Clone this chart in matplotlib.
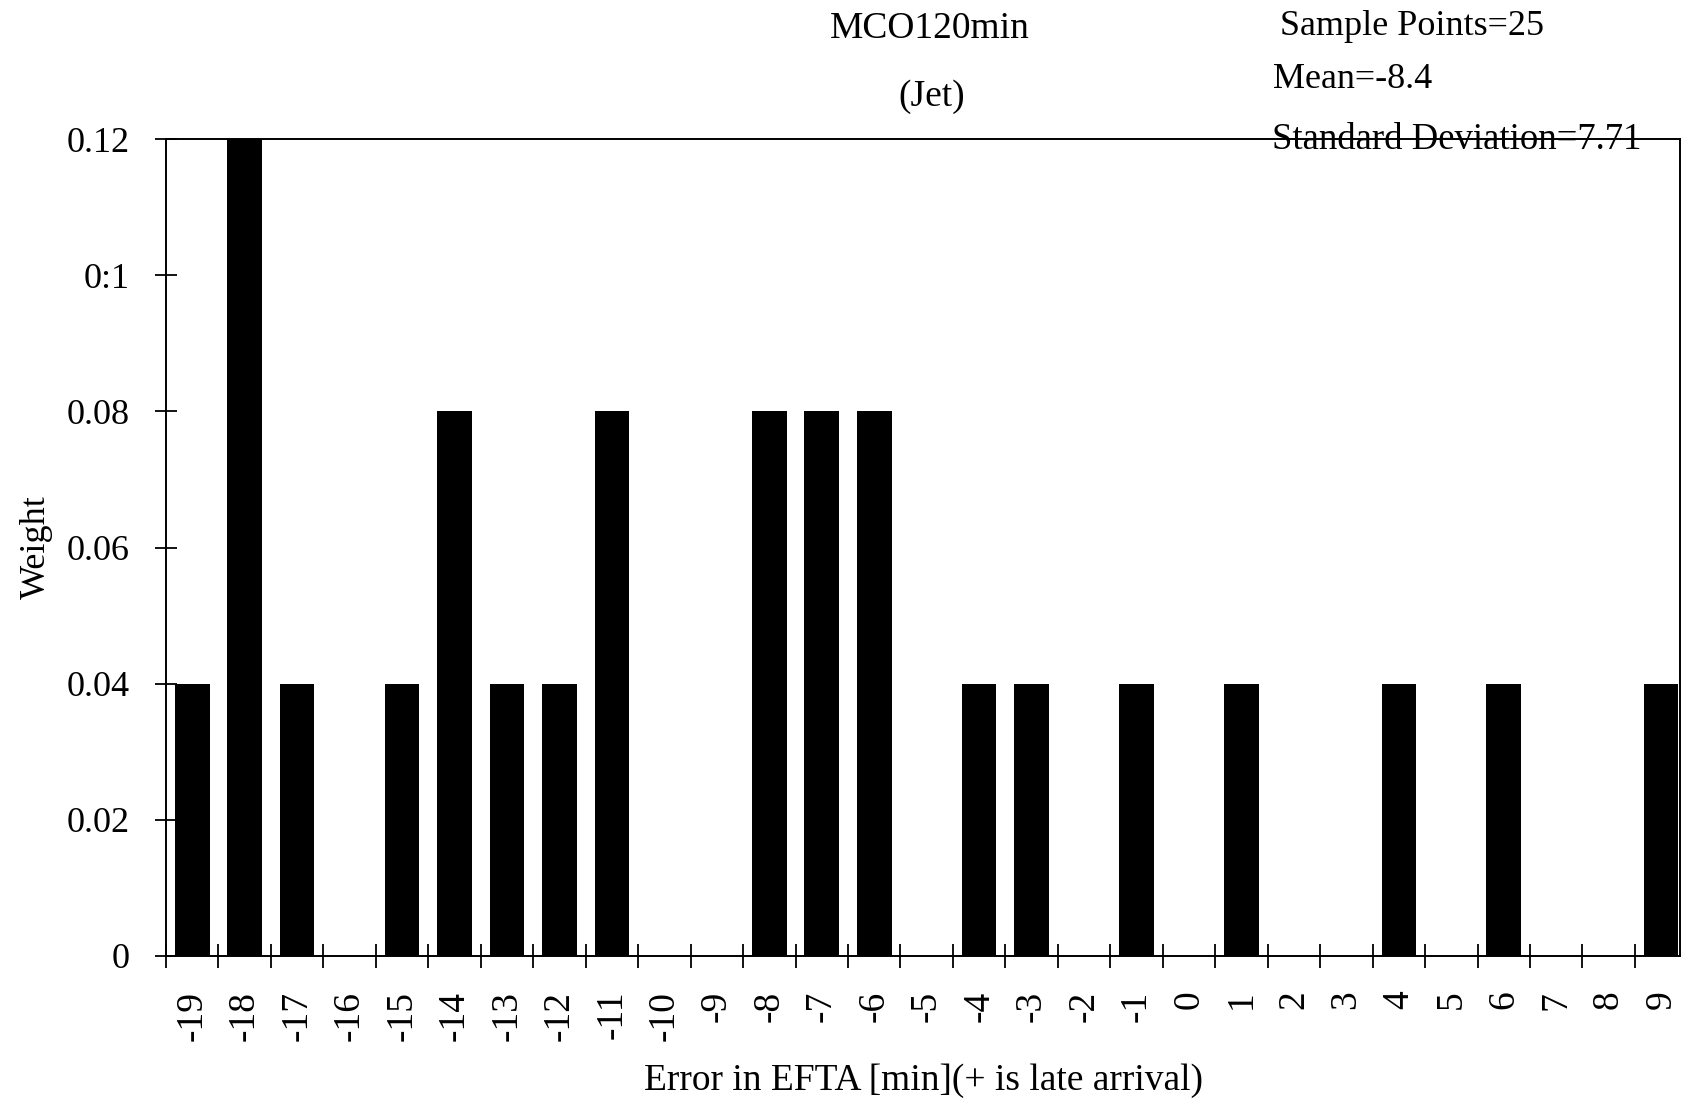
import numpy as np
import matplotlib
matplotlib.use("Agg")
import matplotlib.pyplot as plt

#Chart data
errors = list(range(-19, 10))
weights = [0.04, 0.12, 0.04, 0.0, 0.04, 0.08, 0.04, 0.04, 0.08, 0.0,
           0.0, 0.08, 0.08, 0.08, 0.0, 0.04, 0.04, 0.0, 0.04, 0.0,
           0.04, 0.0, 0.0, 0.04, 0.0, 0.04, 0.0, 0.0, 0.04]
ytick_vals = [0, 0.02, 0.04, 0.06, 0.08, 0.1, 0.12]
ytick_labels = ['0', '0.02', '0.04', '0.06', '0.08', '0:1', '0.12']
stats_lines = ['Sample Points=25', 'Mean=-8.4', 'Standard Deviation=7.71']

plt.rcParams['font.family'] = ['Liberation Serif', 'DejaVu Serif']
plt.rcParams['font.size'] = 26

W, H = 1684, 1101
fig = plt.figure(figsize=(W / 100, H / 100), dpi=100)
ax = fig.add_axes([166 / W, 1 - 956 / H, (1680 - 166) / W, (956 - 139) / H])

#Bars
ax.bar(errors, weights, width=0.66, color='black')

ax.set_xlim(-19.5, 9.36)
ax.set_ylim(0, 0.12)

#Category labels at centres, tick marks at the boundaries
ax.set_xticks(errors)
ax.set_xticklabels([str(e) for e in errors], rotation=90, fontsize=27)
ax.set_xticks(np.arange(-19.5, 9.0, 1.0), minor=True)
ax.tick_params(axis='x', which='major', length=0, pad=25)
ax.tick_params(axis='x', which='minor', direction='inout', length=17, width=1.3)

ax.set_yticks(ytick_vals)
ax.set_yticklabels(ytick_labels)
ax.tick_params(axis='y', direction='inout', length=16, width=1.3, pad=18)

for s in ax.spines.values():
    s.set_linewidth(1.4)

ax.set_ylabel('Weight', labelpad=10)
ax.set_xlabel('Error in EFTA [min](+ is late arrival)', labelpad=16, fontsize=27)

#Title lines and statistics box
fig.text(930 / W, 1 - 38 / H, 'MCO120min', ha='center', va='baseline', fontsize=27)
fig.text(932 / W, 1 - 106 / H, '(Jet)', ha='center', va='baseline', fontsize=27)
fig.text(1280 / W, 1 - 35 / H, stats_lines[0], ha='left', va='baseline')
fig.text(1273 / W, 1 - 88 / H, stats_lines[1], ha='left', va='baseline')
fig.text(1272 / W, 1 - 149 / H, stats_lines[2], ha='left', va='baseline', fontsize=26.5)

fig.savefig('out.png', dpi=100)
